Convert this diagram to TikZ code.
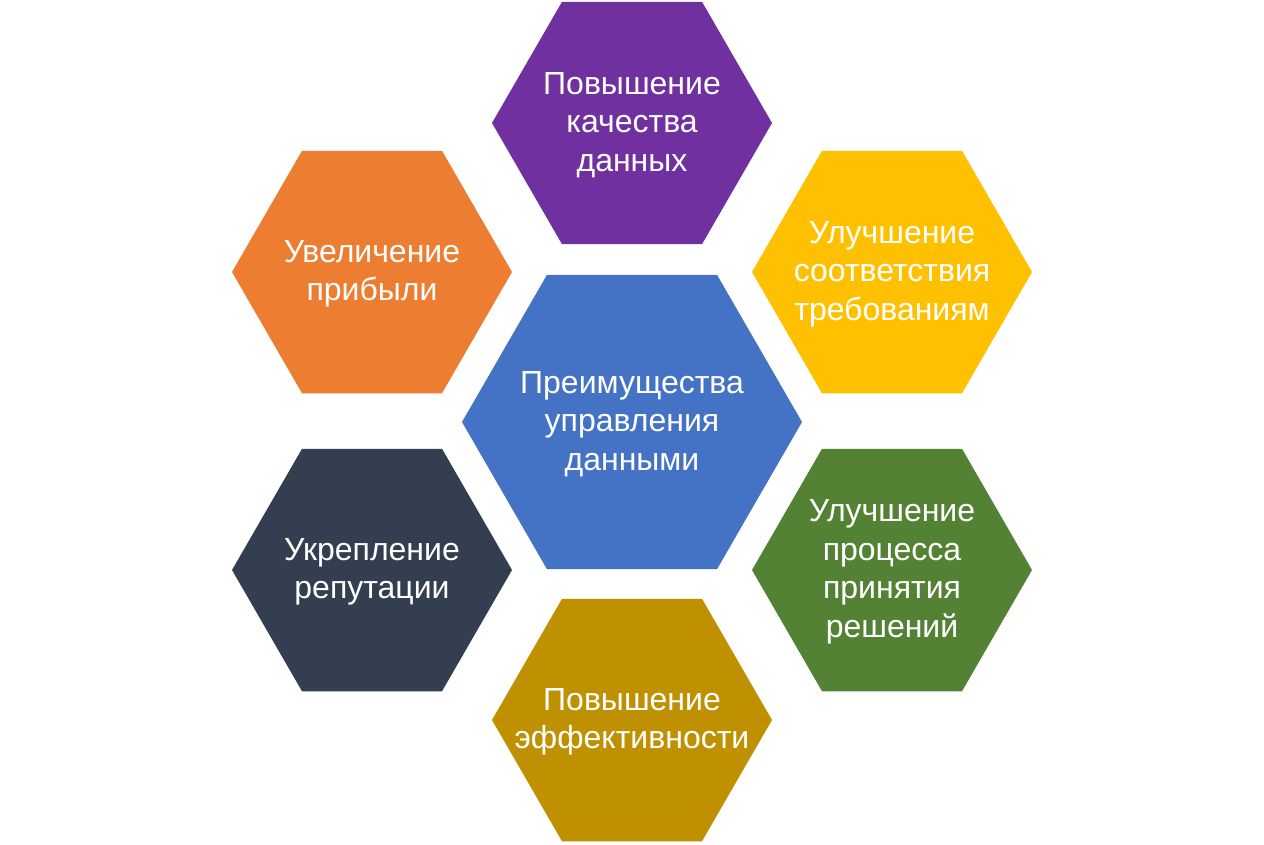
\documentclass[tikz,border=0pt]{standalone}
\usepackage{fontspec}
\setmainfont{Liberation Sans}
\usetikzlibrary{shapes.geometric}
\definecolor{cpurple}{HTML}{7030A0}
\definecolor{corange}{HTML}{ED7D31}
\definecolor{cyellow}{HTML}{FFC000}
\definecolor{cdark}{HTML}{333F50}
\definecolor{cgreen}{HTML}{548235}
\definecolor{cgold}{HTML}{BF9000}
\definecolor{cblue}{HTML}{4472C4}
\tikzset{
  hexa/.style={regular polygon, regular polygon sides=6, inner sep=0pt, outer sep=0pt, draw=none, minimum size=280pt},
  bighexa/.style={hexa, minimum size=340pt},
  hextext/.style={text=white, align=center, font=\fontsize{32}{38.5}\selectfont, inner sep=0pt}
}
\begin{document}
\begin{tikzpicture}[x=1pt,y=-1pt]
\useasboundingbox[fill=white] (0,0) rectangle (1264,844);
\node[hexa, fill=cpurple] (top) at (632,123) {};
\node[hextext] (toptxt) at ([yshift=-2pt]top.center) {Повышение\\качества\\данных};
\node[hexa, fill=corange] (ul) at (372,272) {};
\node[hextext] (ultxt) at ([yshift=-2pt]ul.center) {Увеличение\\прибыли};
\node[hexa, fill=cyellow] (ur) at (892,272) {};
\node[hextext] (urtxt) at ([yshift=-2pt]ur.center) {Улучшение\\соответствия\\требованиям};
\node[hexa, fill=cdark] (ll) at (372,570) {};
\node[hextext] (lltxt) at ([yshift=-2pt]ll.center) {Укрепление\\репутации};
\node[hexa, fill=cgreen] (lr) at (892,570) {};
\node[hextext] (lrtxt) at ([yshift=-2pt]lr.center) {Улучшение\\процесса\\принятия\\решений};
\node[hexa, fill=cgold] (bot) at (632,720) {};
\node[hextext] (bottxt) at ([yshift=-2pt]bot.center) {Повышение\\эффективности};
\node[bighexa, fill=cblue] (mid) at (632,422) {};
\node[hextext] (midtxt) at ([yshift=-2pt]mid.center) {Преимущества\\управления\\данными};
\end{tikzpicture}
\end{document}
